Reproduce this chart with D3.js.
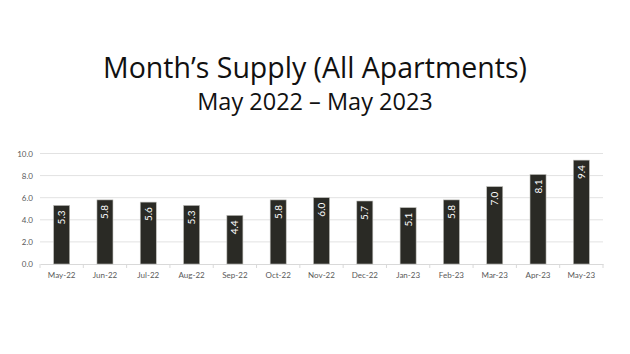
<!DOCTYPE html>
<html>
<head>
<meta charset="utf-8">
<script src="https://cdn.jsdelivr.net/npm/d3@7"></script>
<style>
  html, body { margin: 0; padding: 0; background: #fff; }
  svg { display: block; }
</style>
</head>
<body>
<svg id="chart" width="630" height="354"></svg>
<script>
// Month's supply of apartments, monthly
const months = ["May-22","Jun-22","Jul-22","Aug-22","Sep-22","Oct-22","Nov-22","Dec-22","Jan-23","Feb-23","Mar-23","Apr-23","May-23"];
const supply = [5.3, 5.8, 5.6, 5.3, 4.4, 5.8, 6.0, 5.7, 5.1, 5.8, 7.0, 8.1, 9.4];
const yTicks = [0, 2, 4, 6, 8, 10];
const title = "Month\u2019s Supply (All Apartments)";
const subtitle = "May 2022 \u2013 May 2023";

const svg = d3.select("#chart");
const W = 630, H = 354;
const margin = { left: 40, right: 27, top: 153.5, bottom: 90 };

const x = d3.scaleBand()
  .domain(months)
  .range([margin.left, W - margin.right])
  .paddingInner(0.63)
  .paddingOuter(0.315);

const y = d3.scaleLinear()
  .domain([0, 10])
  .range([H - margin.bottom, margin.top]);

const titleFont = "'Open Sans', 'Noto Sans', sans-serif";
const fontFamily = "Lato, 'Noto Sans', sans-serif";

// Titles
svg.append("text")
  .attr("x", W / 2).attr("y", 78)
  .attr("text-anchor", "middle")
  .attr("font-family", titleFont)
  .attr("font-size", 28.5)
  .attr("fill", "#111")
  .text(title);

svg.append("text")
  .attr("x", W / 2).attr("y", 110)
  .attr("text-anchor", "middle")
  .attr("font-family", titleFont)
  .attr("font-size", 23.5)
  .attr("fill", "#111")
  .text(subtitle);

// Horizontal gridlines
svg.append("g")
  .selectAll("line")
  .data(yTicks.filter(d => d > 0))
  .join("line")
  .attr("x1", margin.left).attr("x2", W - margin.right)
  .attr("y1", d => y(d)).attr("y2", d => y(d))
  .attr("stroke", "#e2e2e2")
  .attr("stroke-width", 1);

// Y axis labels
const yAxis = d3.axisLeft(y)
  .tickValues(yTicks)
  .tickFormat(d3.format(".1f"))
  .tickSize(0)
  .tickPadding(7);

svg.append("g")
  .attr("transform", `translate(${margin.left},0)`)
  .call(yAxis)
  .call(g => g.select(".domain").remove())
  .call(g => g.selectAll("text")
    .attr("font-family", fontFamily)
    .attr("font-size", 8)
    .attr("fill", "#595959"));

// X axis with category-boundary ticks
const xAxis = d3.axisBottom(x).tickSize(0).tickPadding(8);
const xg = svg.append("g")
  .attr("transform", `translate(0,${y(0)})`)
  .call(xAxis);
xg.select(".domain").attr("stroke", "#d9d9d9");
xg.selectAll("text")
  .attr("font-family", fontFamily)
  .attr("font-size", 8)
  .attr("fill", "#595959");

const step = x.step();
const bounds = d3.range(months.length + 1).map(i => margin.left + i * step);
xg.selectAll(".bound")
  .data(bounds)
  .join("line")
  .attr("class", "bound")
  .attr("x1", d => d).attr("x2", d => d)
  .attr("y1", 0).attr("y2", 4)
  .attr("stroke", "#d9d9d9");

// Bars
svg.append("g")
  .selectAll("rect")
  .data(months.map((m, i) => ({ m, v: supply[i] })))
  .join("rect")
  .attr("x", d => x(d.m))
  .attr("y", d => y(d.v))
  .attr("width", x.bandwidth())
  .attr("height", d => y(0) - y(d.v))
  .attr("fill", "#2a2a25")
  .attr("stroke", "#bdbdb8")
  .attr("stroke-width", 0.6);

// Rotated value labels inside the bars
svg.append("g")
  .selectAll("text")
  .data(months.map((m, i) => ({ m, v: supply[i] })))
  .join("text")
  .attr("transform", d => `translate(${x(d.m) + x.bandwidth() / 2 + 3.5},${y(d.v) + 5}) rotate(-90)`)
  .attr("text-anchor", "end")
  .attr("font-family", fontFamily)
  .attr("font-size", 10)
  .attr("fill", "#fff")
  .text(d => d3.format(".1f")(d.v));
</script>
</body>
</html>
